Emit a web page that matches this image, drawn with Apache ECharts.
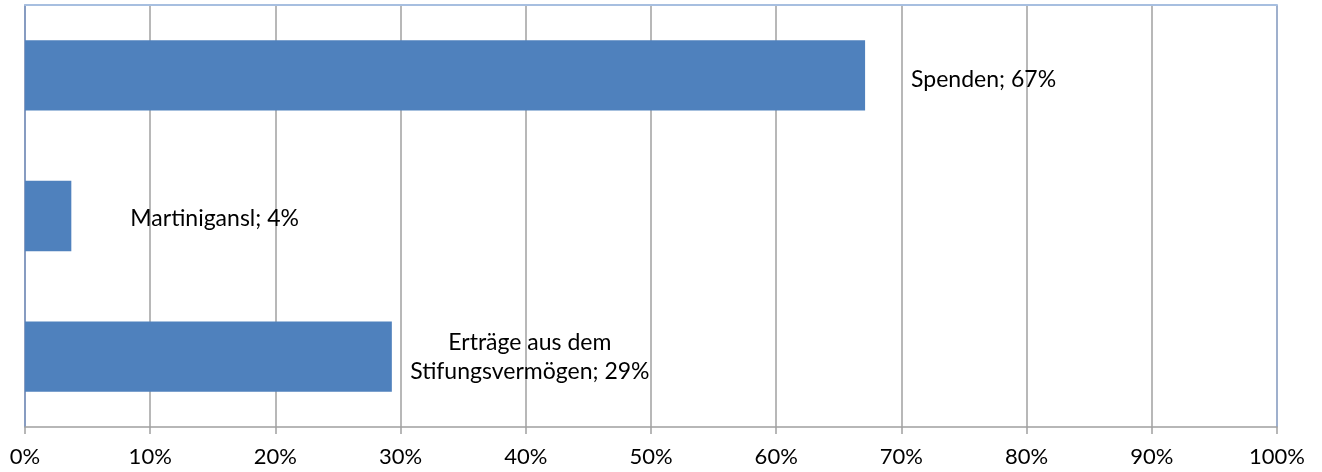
<!DOCTYPE html>
<html>
<head>
<meta charset="utf-8">
<script src="https://cdn.jsdelivr.net/npm/echarts@6/dist/echarts.min.js"></script>
<style>
html,body{margin:0;padding:0;background:#fff;}
#chart{width:1322px;height:472px;}
</style>
</head>
<body>
<div id="chart"></div>
<script>
const categories = ['Erträge aus dem\nStifungsvermögen', 'Martinigansl', 'Spenden'];
const values = [29.3, 3.7, 67.1];
const tickValues = [0, 10, 20, 30, 40, 50, 60, 70, 80, 90, 100];

const FONT = 'Lato';
const labelOffsets = [
  {align: 'center', distance: 138, offset: [0, 0]},
  {align: 'left', distance: 59, offset: [0, 3]},
  {align: 'left', distance: 46, offset: [0, 4]}
];

const chart = echarts.init(document.getElementById('chart'));
const splitColors = tickValues.map((t, i) => (i === 0 || i === tickValues.length - 1) ? '#7f96bd' : '#a0a0a0');

chart.setOption({
  animation: false,
  backgroundColor: '#ffffff',
  grid: {left: 25, right: 45, top: 5, bottom: 45, containLabel: false},
  xAxis: [{
    type: 'value',
    min: 0, max: 100, interval: 10,
    axisLine: {show: true, lineStyle: {color: '#a0a0a0', width: 1.5}},
    axisTick: {show: true, length: 7, lineStyle: {color: '#a0a0a0', width: 1.5}},
    axisLabel: {
      color: '#000', fontFamily: FONT, fontSize: 22, margin: 19,
      formatter: v => Math.round(v) + '%'
    },
    splitLine: {show: true, lineStyle: {color: splitColors, width: 1.5}}
  }, {
    type: 'value', position: 'top',
    min: 0, max: 100, interval: 10,
    axisLine: {show: true, lineStyle: {color: '#a7bfe0', width: 2}},
    axisTick: {show: false}, axisLabel: {show: false}, splitLine: {show: false}
  }],
  yAxis: {
    type: 'category',
    data: categories,
    axisLine: {show: true, lineStyle: {color: '#7f96bd', width: 1.5}},
    axisTick: {show: false},
    axisLabel: {show: false},
    splitLine: {show: false}
  },
  series: [{
    type: 'bar',
    xAxisIndex: 0,
    barCategoryGap: '50%',
    itemStyle: {color: '#4f81bd'},
    data: values.map((v, i) => ({
      value: v,
      label: {
        show: true,
        position: 'right',
        align: labelOffsets[i].align,
        distance: labelOffsets[i].distance,
        offset: labelOffsets[i].offset
      }
    })),
    label: {
      show: true,
      color: '#000',
      fontFamily: FONT,
      fontSize: 23,
      lineHeight: 29,
      formatter: p => p.name + '; ' + Math.round(p.value) + '%'
    }
  }]
});
</script>
</body>
</html>
